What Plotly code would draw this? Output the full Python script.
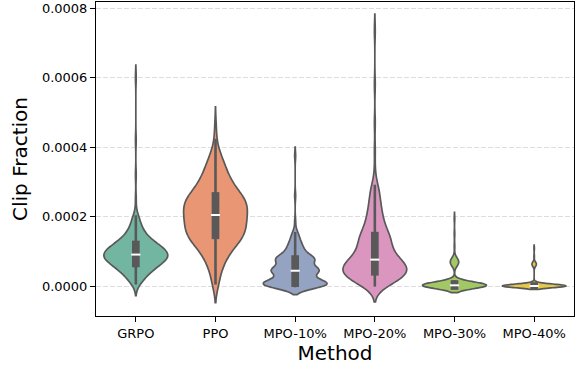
import numpy as np
import plotly.graph_objects as go

methods = ["GRPO", "PPO", "MPO-10%", "MPO-20%", "MPO-30%", "MPO-40%"]

# Clip fraction observations per method: distinct values (units of 1e-5) and how often each occurs
grpo_vals = [0.8, 1.8, 2.6, 3.2, 3.7, 4.2, 4.6, 5.0, 5.4, 5.7, 6.0, 6.25, 6.5, 6.75, 7.0,
             7.2, 7.45, 7.65, 7.85, 8.05, 8.25, 8.4, 8.6, 8.75, 8.9, 9.05, 9.25, 9.45,
             9.65, 9.85, 10.05, 10.3, 10.5, 10.75, 11.0, 11.2, 11.45, 11.7, 11.95, 12.3,
             12.65, 13.0, 13.4, 13.9, 14.5, 15.2, 16.0, 17.0, 18.3, 20.0,
             25.0, 32.0, 42.0, 60.0]
grpo_counts = [4] * 50 + [1] * 4

ppo_vals = [0.8, 4.5, 6.5, 8.0, 9.3, 10.4, 11.3, 12.0, 12.7, 13.3, 13.8, 14.3, 14.7,
            15.2, 15.7, 16.2, 16.7, 17.2, 17.7, 18.2, 18.7, 19.2, 19.7, 20.2, 20.7,
            21.1, 21.6, 22.1, 22.6, 23.1, 23.5, 23.9, 24.3, 24.8, 25.3, 25.8, 26.3,
            26.8, 27.5, 28.3, 29.2, 30.1, 31.1, 32.2, 33.5, 35.0, 36.8, 39.0, 42.0, 46.0]
ppo_counts = [4] * 47 + [2, 1, 1]

mpo10_vals = [0.0, 0.0, 0.07, 0.14, 0.21, 0.28, 0.35, 0.42, 0.5, 0.58, 0.66, 0.75,
              0.9, 1.1, 1.35, 1.65, 2.0, 2.45, 2.95,
              3.8, 4.05, 4.2, 4.3, 4.4, 4.5, 4.6, 4.75, 4.9, 5.1, 5.4,
              6.2,
              7.2, 7.4, 7.55, 7.65, 7.75, 7.85, 8.0, 8.3,
              9.0, 9.6, 10.2, 10.9, 11.6, 12.5, 13.6, 15.2,
              18.5, 26.0, 37.5]
mpo10_counts = [4] * 47 + [1] * 3

mpo20_vals = [0.2, 0.7, 1.2, 1.6, 2.0, 2.3, 2.6, 2.9, 3.2, 3.5, 3.75, 3.95,
              4.1, 4.4, 4.7, 5.0, 5.3, 5.6, 5.9, 6.2, 6.5, 6.8, 7.1, 7.35,
              7.6, 8.1, 8.7, 9.3, 9.9, 10.5, 11.1, 11.7, 12.3, 12.9, 13.5, 14.0,
              14.5, 15.2, 16.0, 16.9, 17.9, 19.0, 20.2, 21.5, 23.0, 24.7, 26.6, 28.8,
              33.0, 39.0, 47.0, 58.0, 73.5]
mpo20_counts = [4] * 48 + [1] * 5

mpo30_vals = [0.0, 0.05, 0.08, 0.1, 0.12, 0.15, 0.18, 0.2, 0.22, 0.25, 0.3, 0.33,
              0.38, 0.42, 0.47, 0.52, 0.57, 0.62, 0.9, 1.3,
              5.9, 6.5, 6.9, 7.3, 8.0,
              11.5, 15.0, 19.3]
mpo30_counts = [48] + [4] * 24 + [1] * 3

mpo40_vals = [0.0, 0.1, 0.2, 0.3, 0.5, 0.8, 5.8, 6.3, 6.7, 8.5, 10.8]
mpo40_counts = [120, 4, 4, 4, 4, 4, 4, 4, 4, 1, 1]

values = [grpo_vals, ppo_vals, mpo10_vals, mpo20_vals, mpo30_vals, mpo40_vals]
counts = [grpo_counts, ppo_counts, mpo10_counts, mpo20_counts, mpo30_counts, mpo40_counts]
# KDE bandwidth for each violin (units of 1e-5)
bandwidths = [1.8, 2.8, 1.25, 2.4, 0.95, 0.5]
SCALE = 1e-5

ytick_vals = [0.0, 0.0002, 0.0004, 0.0006, 0.0008]

fill_colors = ["#72b6a1", "#e99675", "#95a3c3", "#db96c0", "#a2c865", "#e5c849"]
line_gray = "#595959"

y_range = [-8.64e-5, 81.8e-5]
plot_h = 314
px_per_val = plot_h / (y_range[1] - y_range[0])
box_pad = 3.85 / px_per_val
whisk_pad = 1.3 / px_per_val

samples = [np.repeat(np.array(v) * SCALE, c) for v, c in zip(values, counts)]

fig = go.Figure()
for m, vals, bw, col in zip(methods, samples, bandwidths, fill_colors):
    fig.add_trace(go.Violin(
        x=[m] * len(vals), y=vals, name=m, width=0.8,
        fillcolor=col, line=dict(color=line_gray, width=1.7), opacity=1,
        points=False, box_visible=False, meanline_visible=False,
        spanmode="soft", bandwidth=bw * SCALE, scalemode="width",
        hoverinfo="skip", showlegend=False))

for m, vals in zip(methods, samples):
    q1, med, q3 = np.percentile(vals, [25, 50, 75])
    iqr = q3 - q1
    lo = vals[vals >= q1 - 1.5 * iqr].min()
    hi = vals[vals <= q3 + 1.5 * iqr].max()
    fig.add_trace(go.Scatter(x=[m, m], y=[lo - whisk_pad, hi + whisk_pad], mode="lines",
                             line=dict(color=line_gray, width=2.6),
                             hoverinfo="skip", showlegend=False))
    fig.add_trace(go.Scatter(x=[m, m], y=[q1 - box_pad, q3 + box_pad], mode="lines",
                             line=dict(color=line_gray, width=7.7),
                             hoverinfo="skip", showlegend=False))
    fig.add_trace(go.Scatter(x=[m], y=[med], mode="markers",
                             marker=dict(symbol="line-ew", size=6.5,
                                         line=dict(width=2, color="white")),
                             hoverinfo="skip", showlegend=False))

fig.update_layout(
    width=575, height=369,
    margin=dict(l=96, r=1, t=2, b=53),
    plot_bgcolor="white", paper_bgcolor="white",
    violinmode="overlay", showlegend=False,
    font=dict(family="DejaVu Sans", color="black"),
)
fig.update_xaxes(
    type="category", categoryorder="array", categoryarray=methods,
    range=[-0.5, 5.5], showgrid=False, zeroline=False, automargin=False,
    showline=True, mirror=True, linecolor="black", linewidth=1,
    ticks="outside", ticklen=5, tickwidth=1, tickcolor="black",
    tickfont=dict(size=13),
    title=dict(text="Method", font=dict(size=20), standoff=4),
)
fig.update_yaxes(
    range=y_range, tickvals=ytick_vals, tickformat=".4f",
    showgrid=True, gridcolor="#dddddd", gridwidth=1, griddash="5px,2px",
    zeroline=False, automargin=False,
    showline=True, mirror=True, linecolor="black", linewidth=1,
    ticks="outside", ticklen=5, tickwidth=1, tickcolor="black",
    tickfont=dict(size=13),
    title=dict(text="Clip Fraction", font=dict(size=20), standoff=8),
)

fig.write_html("out.html",
               config={"displayModeBar": False},
               post_script="document.body.style.margin='0px';"
                           "document.body.style.padding='0px';")
